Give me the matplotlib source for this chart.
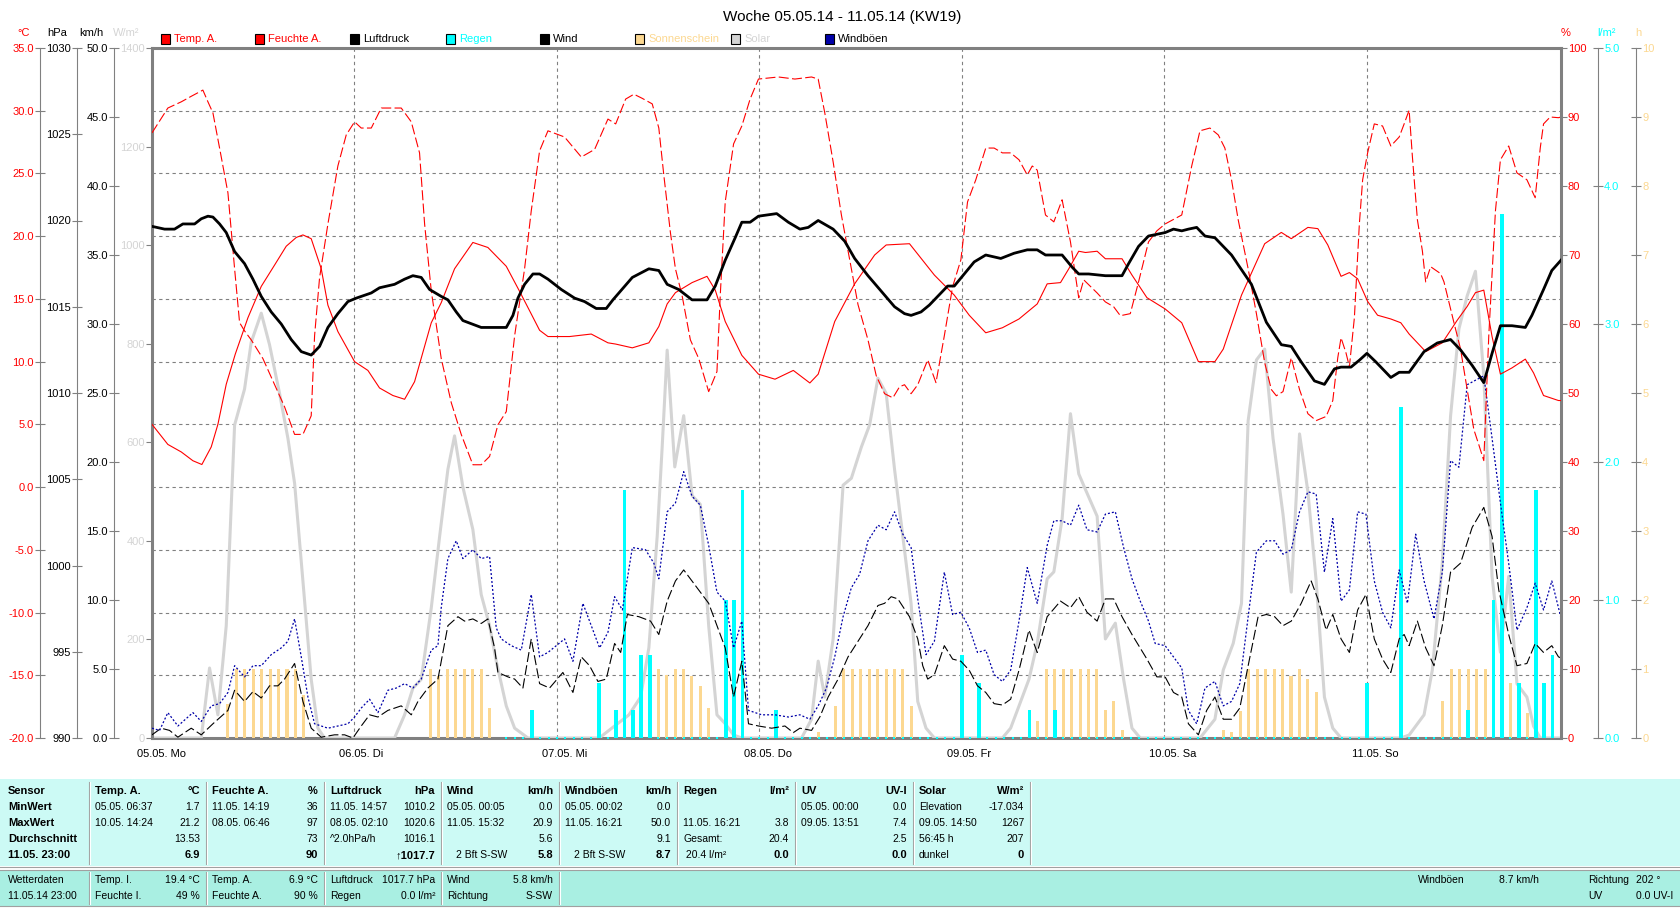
import matplotlib
matplotlib.use("Agg")
import matplotlib.pyplot as plt
import matplotlib.transforms as mtransforms
from matplotlib.patches import Rectangle

plt.rcParams["font.family"] = ["Liberation Sans", "DejaVu Sans"]

# ---------------- data: hours since 05.05.14 00:00 ----------------
TITLE = "Woche 05.05.14 - 11.05.14 (KW19)"
DAYS = ["05.05. Mo", "06.05. Di", "07.05. Mi", "08.05. Do", "09.05. Fr", "10.05. Sa", "11.05. So"]
DAY_H = [0, 24, 48, 72, 96, 120, 144]
END_H = 167

TEMP_H = [0, 1.88, 3.47, 4.85, 5.91, 7.02, 7.81, 8.8, 9.87, 11.37,
          12.95, 14.53, 15.91, 17.1, 17.89, 18.87, 20.06, 20.85, 22.03, 24.01,
          25.59, 26.97, 28.55, 29.94, 31.12, 33.1, 34.28, 35.86, 38.03, 39.81,
          41.99, 43.57, 44.95, 45.94, 46.93, 49.49, 52.06, 54.04, 54.96, 56.93,
          58.89, 60.07, 61.06, 62.04, 64.01, 65.78, 66.76, 67.94, 69.91, 71.88,
          73.84, 76.01, 77.97, 78.96, 80.92, 83.28, 85.65, 87.02, 89.78, 92.73,
          95.09, 96.86, 98.82, 100.79, 102.76, 104.92, 106.1, 107.68, 108.66, 109.84,
          110.64, 112.02, 113.0, 114.97, 116.15, 117.92, 120.08, 122.05, 124.02, 125.98,
          126.97, 129.13, 131.88, 133.85, 135.03, 137.0, 138.18, 139.36, 140.93, 141.92,
          142.9, 144.08, 145.26, 146.83, 148.01, 149.0, 150.96, 152.93, 154.7, 155.88,
          156.86, 157.85, 158.83, 159.82, 161.19, 162.77, 163.75, 164.93, 166.7, 167]
TEMP_V = [5.0, 3.4, 2.8, 2.1, 1.8, 3.2, 5.0, 8.2, 10.6, 13.5,
          16.0, 17.7, 19.2, 19.9, 20.1, 19.8, 17.4, 14.5, 12.4, 10.0,
          9.3, 7.9, 7.3, 7.0, 8.4, 13.1, 14.7, 17.4, 19.5, 19.1,
          17.6, 15.6, 13.8, 12.5, 12.0, 12.0, 12.2, 11.5, 11.4, 11.1,
          11.5, 12.8, 14.6, 15.5, 16.3, 16.8, 15.7, 13.2, 10.5, 9.0,
          8.6, 9.3, 8.3, 9.0, 13.2, 16.2, 18.5, 19.3, 19.4, 16.9,
          15.3, 13.7, 12.3, 12.7, 13.4, 14.6, 16.2, 16.3, 17.4, 18.8,
          18.7, 18.8, 18.2, 18.2, 16.9, 15.1, 14.2, 13.1, 10.0, 10.0,
          11.0, 15.3, 19.4, 20.3, 19.8, 20.7, 20.6, 19.3, 16.8, 17.1,
          16.6, 14.8, 13.7, 13.4, 13.1, 12.2, 10.8, 11.5, 13.3, 14.4,
          15.5, 15.7, 12.0, 9.0, 9.5, 10.2, 9.1, 7.3, 6.9, 6.9]

HUM_H = [0, 1.88, 3.47, 4.65, 6.03, 6.63, 7.22, 8.01, 9.0, 9.79,
         10.38, 10.97, 11.76, 13.14, 14.53, 15.71, 16.9, 17.89, 18.87, 19.27,
         19.86, 20.85, 22.03, 23.02, 24.01, 24.8, 25.99, 27.17, 29.54, 30.73,
         31.71, 32.31, 33.1, 34.28, 35.47, 36.65, 38.03, 39.02, 40.01, 41.0,
         41.99, 42.98, 44.16, 44.95, 45.94, 46.93, 48.9, 50.88, 52.46, 54.04,
         54.96, 56.14, 57.12, 58.11, 59.29, 60.07, 60.66, 61.45, 62.04, 62.83,
         63.81, 64.8, 65.98, 66.96, 67.35, 67.94, 68.93, 69.91, 70.89, 71.88,
         74.24, 76.2, 78.17, 78.96, 79.74, 80.73, 81.71, 82.69, 83.68, 84.86,
         85.84, 86.83, 87.81, 88.6, 89.19, 89.97, 90.76, 91.94, 92.92, 93.91,
         94.89, 95.87, 96.66, 97.64, 98.82, 99.81, 100.79, 101.77, 102.76, 103.74,
         104.33, 104.92, 105.9, 106.89, 107.87, 108.86, 109.84, 110.43, 112.02, 113.0,
         113.98, 114.77, 115.95, 116.93, 118.11, 119.1, 120.08, 122.05, 123.23, 124.21,
         125.39, 126.38, 127.16, 127.95, 128.74, 129.92, 130.9, 131.88, 132.67, 133.26,
         134.05, 135.03, 136.01, 137.0, 137.98, 139.16, 139.95, 140.54, 140.93, 141.52,
         141.92, 142.51, 143.1, 143.49, 144.08, 144.87, 145.85, 146.83, 147.82, 148.41,
         149.0, 149.39, 149.98, 150.57, 150.96, 151.55, 152.73, 153.13, 154.31, 155.09,
         155.88, 156.67, 157.26, 157.85, 158.44, 159.23, 159.82, 160.8, 161.78, 162.96,
         163.94, 164.54, 164.93, 165.72, 166.7, 167]
HUM_V = [87.7, 91.3, 92.2, 93.0, 93.9, 92.2, 90.6, 85.5, 79.0, 68.0,
         60.2, 59.0, 57.7, 55.0, 51.2, 48.0, 44.0, 44.0, 46.7, 58.3,
         66.7, 74.5, 82.9, 87.4, 89.3, 88.4, 88.4, 91.3, 91.3, 89.3,
         84.8, 74.5, 64.8, 55.0, 48.6, 44.0, 39.6, 39.6, 40.8, 45.4,
         47.3, 58.3, 68.0, 76.4, 85.1, 88.0, 87.1, 84.2, 85.3, 89.7,
         89.0, 92.6, 93.3, 92.7, 91.9, 88.4, 81.6, 73.2, 68.0, 64.1,
         57.7, 55.0, 50.2, 53.1, 64.1, 77.7, 86.1, 88.7, 92.6, 95.5,
         95.8, 95.5, 95.8, 95.5, 90.6, 83.5, 75.8, 69.3, 62.8, 57.7,
         52.5, 49.9, 49.3, 50.9, 51.2, 49.9, 51.2, 54.8, 51.5, 58.3,
         65.4, 69.3, 77.7, 80.9, 85.5, 85.5, 84.8, 84.8, 83.8, 81.6,
         82.9, 82.3, 75.8, 74.8, 78.0, 71.9, 63.8, 66.4, 64.5, 63.2,
         62.5, 61.2, 61.5, 66.1, 71.9, 73.5, 74.5, 75.8, 82.9, 88.0,
         88.4, 87.4, 85.5, 80.9, 75.1, 68.0, 61.5, 54.4, 50.5, 49.6,
         50.2, 55.1, 50.5, 47.0, 46.0, 46.6, 48.9, 55.1, 58.0, 55.8,
         53.8, 60.9, 74.5, 80.9, 84.8, 89.0, 88.7, 85.8, 87.1, 89.0,
         91.0, 84.2, 75.1, 70.6, 66.1, 68.3, 67.3, 66.1, 60.2, 56.4,
         50.5, 44.7, 42.5, 40.2, 58.3, 76.4, 83.8, 85.8, 81.9, 80.9,
         78.3, 85.5, 89.0, 90.0, 89.9, 90.0]

PRES_H = [0, 1.49, 2.67, 3.66, 5.05, 5.84, 6.63, 7.22, 8.01, 8.8,
          9.79, 10.97, 11.96, 12.95, 14.13, 15.32, 16.5, 17.69, 18.87, 19.86,
          20.85, 22.03, 23.22, 24.21, 25.99, 26.97, 28.75, 29.94, 30.92, 31.91,
          32.9, 34.28, 35.07, 36.06, 36.85, 39.02, 41.99, 42.78, 43.37, 44.16,
          45.15, 45.94, 46.93, 48.51, 50.09, 51.27, 52.65, 53.84, 54.63, 56.93,
          58.89, 60.07, 61.06, 62.43, 64.01, 65.78, 66.76, 67.94, 69.12, 69.91,
          70.89, 71.88, 74.04, 75.42, 76.79, 77.78, 78.96, 80.73, 82.1, 83.28,
          84.86, 86.43, 88.01, 89.19, 89.97, 91.15, 92.14, 93.12, 94.3, 95.09,
          96.27, 97.45, 98.82, 100.6, 102.17, 103.74, 104.92, 105.9, 107.87, 109.05,
          109.84, 111.02, 113.0, 114.97, 115.75, 116.93, 118.11, 119.1, 120.08, 121.07,
          122.05, 122.84, 123.82, 124.8, 125.98, 127.95, 130.31, 132.08, 133.85, 135.03,
          136.21, 137.78, 138.96, 140.15, 140.93, 142.11, 143.1, 144.0, 145.06, 146.83,
          147.82, 149.0, 150.77, 152.34, 153.91, 155.09, 156.47, 157.85, 158.83, 159.82,
          161.19, 162.77, 163.55, 164.93, 165.91, 166.82, 167]
PRES_V = [1019.66, 1019.5, 1019.5, 1019.8, 1019.8, 1020.1, 1020.25, 1020.2, 1019.8, 1019.3,
          1018.2, 1017.5, 1016.6, 1015.6, 1014.7, 1014.0, 1013.1, 1012.4, 1012.2, 1012.7,
          1013.8, 1014.6, 1015.3, 1015.5, 1015.8, 1016.1, 1016.3, 1016.6, 1016.8, 1016.7,
          1016.0, 1015.6, 1015.4, 1014.7, 1014.2, 1013.8, 1013.8, 1014.5, 1015.5, 1016.3,
          1016.9, 1016.9, 1016.6, 1016.0, 1015.5, 1015.3, 1014.9, 1014.9, 1015.4, 1016.7,
          1017.2, 1017.1, 1016.3, 1016.0, 1015.4, 1015.4, 1016.2, 1017.7, 1019.0, 1019.9,
          1019.9, 1020.25, 1020.4, 1019.9, 1019.5, 1019.6, 1020.0, 1019.5, 1018.8, 1017.8,
          1016.8, 1015.9, 1015.0, 1014.6, 1014.5, 1014.7, 1015.1, 1015.6, 1016.2, 1016.2,
          1016.9, 1017.6, 1018.0, 1017.8, 1018.1, 1018.3, 1018.3, 1018.0, 1018.0, 1017.3,
          1016.9, 1016.9, 1016.8, 1016.8, 1017.5, 1018.5, 1019.1, 1019.2, 1019.3, 1019.5,
          1019.4, 1019.5, 1019.6, 1019.1, 1019.0, 1018.0, 1016.3, 1014.1, 1012.8, 1012.7,
          1011.8, 1010.7, 1010.5, 1011.4, 1011.5, 1011.5, 1011.9, 1012.3, 1011.8, 1010.9,
          1011.2, 1011.2, 1012.4, 1012.9, 1013.1, 1012.5, 1011.6, 1010.6, 1012.3, 1013.9,
          1013.9, 1013.8, 1014.5, 1016.0, 1017.1, 1017.6, 1017.7]

WIND_H = [0, 1.09, 2.08, 3.07, 4.65, 5.84, 7.22, 9.0, 9.79, 10.97,
          11.96, 12.95, 13.93, 14.92, 15.71, 16.9, 17.89, 18.87, 20.06, 21.64,
          22.83, 23.81, 24.8, 25.79, 26.78, 27.96, 29.54, 30.73, 31.52, 32.7,
          33.89, 35.07, 36.26, 37.05, 38.03, 39.02, 39.81, 40.6, 41.0, 42.18,
          42.98, 43.96, 44.95, 45.94, 47.12, 48.7, 49.89, 50.88, 51.86, 52.85,
          53.84, 54.83, 55.55, 56.34, 57.71, 59.09, 60.07, 61.06, 62.04, 63.02,
          64.4, 65.19, 65.98, 66.96, 67.94, 68.93, 69.91, 70.7, 71.88, 73.45,
          75.02, 76.01, 76.79, 78.17, 79.15, 80.14, 81.32, 82.5, 83.68, 84.86,
          86.04, 86.83, 87.61, 88.4, 89.78, 90.76, 91.35, 91.94, 92.73, 93.91,
          94.89, 95.87, 96.86, 97.84, 98.82, 99.81, 100.79, 101.77, 102.76, 103.94,
          104.92, 106.1, 107.68, 108.86, 109.84, 110.82, 112.02, 113.0, 113.98, 114.97,
          116.15, 117.92, 119.1, 120.08, 121.07, 122.05, 122.84, 124.02, 125.0, 125.98,
          126.97, 127.95, 128.93, 129.92, 131.1, 132.08, 133.06, 134.05, 135.03, 136.21,
          137.39, 138.18, 139.16, 139.95, 140.93, 141.92, 142.9, 143.88, 144.87, 145.85,
          146.83, 147.82, 148.41, 149.0, 149.98, 150.96, 151.95, 152.93, 153.91, 155.09,
          156.47, 157.85, 158.83, 159.62, 160.8, 161.78, 162.96, 163.94, 164.93, 165.91,
          166.7, 167]
WIND_V = [0.23, 0.71, 0.55, 0.06, 0.71, 0.23, 1.03, 2.0, 3.46, 2.65,
          3.36, 2.9, 3.78, 3.78, 4.27, 5.4, 2.65, 0.71, 0.06, 0.23,
          0.23, 0.0, 0.87, 1.68, 1.52, 2.0, 2.33, 1.68, 2.65, 3.62,
          4.27, 8.14, 8.79, 8.47, 8.63, 8.3, 8.63, 6.53, 4.75, 4.43,
          4.27, 3.62, 7.18, 3.94, 3.62, 4.75, 3.3, 5.88, 5.24, 4.1,
          4.27, 6.85, 6.2, 8.95, 8.79, 8.47, 7.5, 9.92, 11.38, 12.18,
          11.05, 10.4, 9.76, 8.14, 6.53, 2.97, 5.56, 1.03, 0.87, 0.71,
          0.87, 0.39, 0.71, 0.55, 1.52, 2.97, 4.27, 5.88, 7.01, 8.14,
          9.6, 9.76, 10.24, 10.08, 8.79, 7.18, 5.24, 4.27, 4.59, 6.69,
          5.72, 5.56, 4.91, 3.78, 3.3, 2.49, 2.39, 2.81, 4.91, 7.82,
          6.2, 8.79, 9.92, 9.44, 10.24, 9.11, 8.47, 10.08, 10.08, 8.79,
          7.5, 5.72, 4.43, 4.43, 3.3, 2.97, 1.03, 0.23, 2.0, 2.97,
          1.36, 1.36, 2.17, 5.24, 8.79, 8.95, 8.79, 8.14, 8.47, 9.76,
          11.38, 10.08, 7.82, 8.95, 7.18, 6.2, 9.28, 10.4, 7.18, 5.72,
          4.75, 7.18, 7.5, 6.69, 8.47, 6.53, 5.24, 8.14, 12.02, 12.67,
          15.26, 16.71, 14.61, 10.73, 7.5, 5.24, 5.4, 6.85, 6.2, 6.69,
          5.88, 5.8]

GUST_H = [0, 0.9, 1.88, 3.07, 4.85, 5.84, 7.02, 8.01, 9.0, 9.79,
          10.97, 11.96, 12.95, 14.13, 15.32, 16.11, 16.9, 17.69, 18.48, 19.27,
          20.85, 22.03, 23.22, 24.01, 24.8, 25.79, 26.78, 27.96, 28.95, 29.94,
          30.92, 31.91, 33.1, 33.89, 34.28, 35.07, 36.06, 36.85, 38.03, 39.02,
          40.01, 40.8, 41.39, 42.58, 43.77, 44.95, 45.94, 46.93, 47.91, 48.9,
          49.89, 51.07, 52.06, 53.05, 54.04, 54.83, 55.75, 56.93, 58.5, 59.48,
          60.07, 61.06, 62.04, 63.02, 64.01, 64.99, 65.98, 66.96, 67.94, 68.93,
          69.91, 70.7, 72.27, 73.84, 75.42, 76.79, 77.97, 78.96, 79.94, 80.92,
          81.91, 82.89, 83.87, 84.86, 86.04, 87.02, 88.01, 88.99, 89.97, 90.76,
          91.74, 92.73, 93.91, 94.89, 95.87, 96.86, 97.84, 98.82, 99.81, 100.79,
          101.77, 102.76, 103.74, 104.92, 106.1, 106.89, 107.87, 108.86, 109.84, 110.82,
          112.02, 113.0, 114.18, 115.16, 116.15, 117.13, 118.11, 118.9, 120.08, 121.07,
          122.05, 122.84, 123.82, 124.8, 125.98, 126.97, 127.95, 128.93, 129.92, 130.9,
          132.08, 133.06, 134.05, 135.03, 136.01, 137.0, 137.98, 138.96, 139.95, 140.93,
          141.92, 142.9, 143.88, 144.87, 145.85, 146.83, 147.82, 148.8, 149.78, 150.77,
          151.95, 152.93, 153.91, 154.9, 155.88, 156.86, 157.85, 158.83, 159.82, 160.8,
          161.78, 162.96, 163.94, 164.93, 165.91, 166.9, 167]
GUST_V = [0.71, 0.55, 1.84, 0.87, 1.84, 1.2, 2.33, 2.49, 3.3, 5.24,
          4.43, 5.24, 5.24, 6.04, 6.53, 7.01, 8.63, 5.88, 2.97, 1.03,
          0.71, 0.87, 1.03, 1.52, 2.17, 2.81, 1.84, 3.46, 3.62, 3.94,
          3.62, 4.27, 6.37, 6.69, 9.44, 13.0, 14.29, 13.0, 13.64, 13.0,
          13.15, 7.98, 7.18, 6.69, 6.37, 10.4, 5.88, 6.2, 6.69, 7.18,
          5.56, 9.76, 8.14, 6.53, 7.66, 10.24, 9.28, 13.8, 13.64, 12.67,
          11.54, 16.39, 17.03, 19.3, 17.52, 16.87, 13.96, 10.57, 9.92, 6.53,
          8.47, 2.0, 1.68, 1.68, 1.52, 1.68, 1.36, 2.33, 3.62, 5.88,
          8.79, 10.89, 11.86, 14.29, 15.42, 15.09, 16.39, 14.77, 13.8, 10.08,
          6.04, 7.01, 12.02, 8.95, 9.11, 7.98, 6.2, 6.37, 4.59, 4.1,
          4.91, 8.47, 12.35, 9.76, 13.96, 15.74, 15.74, 15.42, 16.87, 15.09,
          14.93, 16.22, 16.39, 13.8, 11.54, 9.92, 8.47, 6.85, 6.69, 5.88,
          5.07, 2.0, 1.03, 3.62, 4.1, 2.33, 2.65, 3.94, 8.79, 13.48,
          14.29, 14.29, 13.32, 13.64, 16.39, 17.84, 17.68, 12.02, 15.9, 9.92,
          10.73, 16.39, 16.22, 11.38, 9.11, 7.98, 12.18, 9.76, 14.77, 11.38,
          8.63, 12.02, 20.1, 19.62, 25.6, 25.92, 26.25, 21.72, 17.03, 12.67,
          7.82, 9.44, 11.22, 9.28, 11.38, 8.95, 8.7]

SOLAR_H = [0, 5.84, 6.82, 7.81, 8.8, 9.79, 10.97, 11.76, 12.95, 13.93, 15.12, 16.11, 16.9, 17.89, 18.87, 19.66, 20.45,
           28.75, 29.94, 30.92, 31.91, 33.1, 34.09, 35.07, 35.86, 36.85, 38.03, 39.02, 40.01, 40.8, 41.99, 42.98, 44.56,
           53.0, 56.53, 57.91, 58.89, 59.88, 60.47, 61.06, 61.96, 63.02, 64.01, 64.99, 65.98, 66.96, 67.94, 68.93, 69.91,
           76.99, 78.17, 78.96, 79.74, 80.73, 81.91, 82.89, 84.07, 85.05, 86.04, 87.02, 88.01, 88.99, 89.97, 90.76, 91.74, 92.73,
           100.79, 101.77, 102.76, 103.94, 104.92, 106.1, 106.89, 107.87, 108.86, 109.84, 110.64, 112.02, 113.0, 114.18, 115.16, 116.15, 117.13,
           124.21, 125.98, 126.97, 128.15, 129.13, 129.92, 130.9, 131.88, 132.87, 134.05, 135.03, 136.01, 137.0, 137.98, 138.96, 139.95, 140.93,
           148.01, 149.0, 150.77, 151.75, 152.93, 153.91, 154.9, 155.88, 156.86, 157.85, 158.83, 159.82, 160.8, 161.78, 162.96, 163.75, 164.54, 167]
SOLAR_V = [0, 0, 142, 47, 228, 635, 708, 803, 862, 798, 699, 608, 517, 318, 119, 20, 0,
           0, 47, 101, 119, 264, 409, 545, 613, 509, 423, 291, 228, 156, 65, 20, 0,
           0, 47, 83, 183, 410, 591, 787, 550, 654, 492, 474, 228, 47, 29, 6, 0,
           0, 38, 156, 83, 201, 513, 527, 590, 635, 730, 699, 545, 409, 273, 74, 20, 0,
           0, 20, 65, 119, 192, 323, 337, 445, 658, 536, 504, 450, 201, 233, 119, 20, 0,
           0, 38, 138, 192, 273, 644, 767, 789, 608, 454, 296, 617, 500, 319, 83, 20, 0,
           0, 6, 47, 138, 355, 653, 830, 897, 947, 735, 328, 174, 328, 110, 83, 24, 0, 0]

SUN_H = [9, 10, 11, 12, 13, 14, 15, 16, 17, 18,
         33, 34, 35, 36, 37, 38, 39, 40,
         60, 61, 62, 63, 64, 65, 66,
         79, 81, 82, 83, 84, 85, 86, 87, 88, 89, 90,
         105, 106, 107, 108, 109, 110, 111, 112, 113, 114, 115,
         127, 128, 129, 130, 131, 132, 133, 134, 135, 136, 137, 138,
         153, 154, 155, 156, 157, 158, 161, 163]
SUN_V = [0.5, 1, 1, 1, 1, 1, 1, 1, 1, 0.63,
         1, 0.9, 1, 1, 1, 1, 1, 0.43,
         1, 0.92, 1, 1, 0.9, 0.76, 0.43,
         0.08, 0.47, 1, 1, 1, 1, 1, 1, 1, 1, 0.47,
         0.24, 1, 1, 1, 1, 1, 1, 1, 0.4, 0.54, 0.11,
         0.11, 0.09, 0.39, 1, 1, 1, 1, 1, 0.9, 1, 0.85, 0.67,
         0.54, 1, 1, 1, 1, 1, 0.8, 0.36]

RAIN_H = [45, 53, 55, 56, 57, 58, 59, 68, 69, 70, 74, 96, 98, 104, 107,
          144, 148, 156, 159, 160, 162, 164, 165, 166]
RAIN_V = [0.2, 0.4, 0.2, 1.8, 0.2, 0.6, 0.6, 1.0, 1.0, 1.8, 0.2, 0.6, 0.4, 0.2, 0.2,
          0.4, 2.4, 0.2, 1.0, 3.8, 0.4, 1.8, 0.4, 0.6]
RAIN_LOG_START = 42   # first hour with a rain reading

# summary table
T_HEAD = ["Temp. A.", "Feuchte A.", "Luftdruck", "Wind", "Windböen", "Regen", "UV", "Solar"]
T_UNIT = ["°C", "%", "hPa", "km/h", "km/h", "l/m²", "UV-I", "W/m²"]
T_MIN_AT = ["05.05. 06:37", "11.05. 14:19", "11.05. 14:57", "05.05. 00:05", "05.05. 00:02", "", "05.05. 00:00", "Elevation"]
T_MIN = ["1.7", "36", "1010.2", "0.0", "0.0", "", "0.0", "-17.034"]
T_MAX_AT = ["10.05. 14:24", "08.05. 06:46", "08.05. 02:10", "11.05. 15:32", "11.05. 16:21", "11.05. 16:21", "09.05. 13:51", "09.05. 14:50"]
T_MAX = ["21.2", "97", "1020.6", "20.9", "50.0", "3.8", "7.4", "1267"]
T_AVG_NOTE = ["", "", "^2.0hPa/h", "", "", "Gesamt:", "", "56:45 h"]
T_AVG = ["13.53", "73", "1016.1", "5.6", "9.1", "20.4", "2.5", "207"]
T_NOW_NOTE = ["", "", "", "2 Bft S-SW", "2 Bft S-SW", " 20.4 l/m²", "", "dunkel"]
T_NOW = ["6.9", "90", "\u21911017.7", "5.8", "8.7", "0.0", "0.0", "0"]
T_ROWS = ["Sensor", "MinWert", "MaxWert", "Durchschnitt", "11.05. 23:00"]
CUR_TITLE = ["Wetterdaten", "11.05.14 23:00"]
CUR_ITEMS = [[("Temp. I.", "19.4 °C"), ("Feuchte I.", "49 %")],
             [("Temp. A.", "6.9 °C"), ("Feuchte A.", "90 %")],
             [("Luftdruck", "1017.7 hPa"), ("Regen", "0.0 l/m²")],
             [("Wind", "5.8 km/h"), ("Richtung", "S-SW")]]
CUR_RIGHT = [("Windböen", "8.7 km/h", "Richtung", "202 °"), ("", "", "UV", "0.0 UV-I")]

# ---------------- layout (pixels) ----------------
W, H = 1680, 909
L, R, T, B = 152, 1561, 48, 738
GREY = "#808080"
SUNC = "#fcd891"
SOLC = "#d4d4d4"
GUSTC = "#0000a8"
CYAN = "#00ffff"

fig = plt.figure(figsize=(W / 100, H / 100), dpi=100)


def fx(x):
    return x / W


def fy(y):
    return 1 - y / H


def axpos(xpix):
    return (xpix - L) / (R - L)


rect = [fx(L), fy(B), (R - L) / W, (B - T) / H]

# base axis: temperature scale, grid and frame
ax_t = fig.add_axes(rect)
ax_t.set_xlim(0, END_H)
ax_t.set_ylim(-20, 35)
for s in ["top", "bottom"]:
    ax_t.spines[s].set_color(GREY)
    ax_t.spines[s].set_linewidth(2.2)
ax_t.spines["right"].set_visible(False)
ax_t.spines["left"].set_position(("axes", axpos(40)))
ax_t.spines["left"].set_color(GREY)
ax_t.spines["left"].set_linewidth(0.8)
tt = list(range(-20, 36, 5))
ax_t.set_yticks(tt)
ax_t.set_yticklabels([f"{v:.1f}" for v in tt])
ax_t.tick_params(axis="y", color=GREY, labelcolor="red", labelsize=8, width=0.8,
                 direction="inout", length=7, pad=1)
ax_t.set_xticks(DAY_H[1:])
ax_t.tick_params(axis="x", length=0, labelbottom=False)
ax_t.grid(True, color=GREY, lw=0.8, ls=(0, (3, 3)))


def add_scale(lo, hi, ticks, fmt, color, side, xpix, frame=False):
    ax = fig.add_axes(rect, sharex=ax_t)
    ax.patch.set_visible(False)
    ax.xaxis.set_visible(False)
    for s in ax.spines.values():
        s.set_visible(False)
    ax.set_ylim(lo, hi)
    if side is None:
        ax.set_yticks([])
        return ax
    sp = ax.spines[side]
    sp.set_visible(True)
    sp.set_position(("axes", axpos(xpix)))
    sp.set_color(GREY)
    sp.set_linewidth(2.2 if frame else 0.8)
    ax.yaxis.set_ticks_position(side)
    ax.set_yticks(ticks)
    ax.set_yticklabels([fmt.format(t) for t in ticks])
    ax.tick_params(axis="y", color=GREY, labelcolor=color, labelsize=8, width=0.8,
                   direction="out" if frame else "inout", length=4 if frame else 7, pad=1)
    return ax


ax_sol = add_scale(0, 1400, list(range(0, 1401, 200)), "{:.0f}", SOLC, "left", L, frame=True)
ax_sun = add_scale(0, 10, list(range(0, 11)), "{:.0f}", SUNC, "right", 1636)
ax_rain = add_scale(0, 5, [0, 1, 2, 3, 4, 5], "{:.1f}", CYAN, "right", 1598)
ax_wind = add_scale(0, 50, list(range(0, 51, 5)), "{:.1f}", "black", "left", 114)
ax_hum = add_scale(0, 100, list(range(0, 101, 10)), "{:.0f}", "red", "right", R, frame=True)
ax_tl = add_scale(-20, 35, None, None, None, None, None)
ax_p = add_scale(990, 1030, list(range(990, 1031, 5)), "{:.0f}", "black", "left", 77)

ax_sol.plot(SOLAR_H, SOLAR_V, color=SOLC, lw=2.2)
ax_sun.bar(SUN_H, SUN_V, width=0.36, color=SUNC, lw=0)
ax_rain.bar(RAIN_H, RAIN_V, width=0.45, color=CYAN, lw=0)
zero_h = [h for h in range(RAIN_LOG_START, END_H + 1) if h not in RAIN_H]
ax_rain.plot(zero_h, [0] * len(zero_h), ls="none", marker="s", ms=1.8, mew=0,
             color=CYAN, clip_on=False)
ax_wind.plot(WIND_H, WIND_V, color="black", lw=0.8, ls=(0, (9, 3)))
ax_wind.plot(GUST_H, GUST_V, color=GUSTC, lw=0.9, ls=(0, (1.6, 1.6)))
ax_hum.plot(HUM_H, HUM_V, color="red", lw=0.8, ls=(0, (9, 3)))
ax_tl.plot(TEMP_H, TEMP_V, color="red", lw=0.8)
ax_p.plot(PRES_H, PRES_V, color="black", lw=2.0)

# day labels under the plot
lab_tr = mtransforms.blended_transform_factory(ax_t.transData, fig.transFigure) + \
    mtransforms.ScaledTranslation(-15 / 100, 0, fig.dpi_scale_trans)
for h, lbl in zip(DAY_H, DAYS):
    ax_t.text(h, fy(754), lbl, transform=lab_tr, ha="left", va="center", fontsize=8)

# title, units, legend
fig.text(fx(842), fy(17), TITLE, ha="center", va="center", fontsize=11)
for x, u, c in [(24, "°C", "red"), (57, "hPa", "black"), (91, "km/h", "black"),
                (126, "W/m²", SOLC), (1566, "%", "red"), (1607, "l/m²", CYAN),
                (1638, "h", SUNC)]:
    fig.text(fx(x), fy(33), u, color=c, fontsize=8, ha="center", va="center")

legend = [("Temp. A.", "red", "red"), ("Feuchte A.", "red", "red"),
          ("Luftdruck", "black", "black"), ("Regen", CYAN, CYAN),
          ("Wind", "black", "black"), ("Sonnenschein", SUNC, SUNC),
          ("Solar", SOLC, SOLC), ("Windböen", GUSTC, "black")]
leg_x = [161, 255, 350, 446, 540, 635, 731, 825]
for x, (name, sq, tc) in zip(leg_x, legend):
    fig.add_artist(Rectangle((fx(x), fy(43.5)), 9 / W, 9 / H, transform=fig.transFigure,
                             facecolor=sq, edgecolor="black", lw=0.8))
    fig.text(fx(x + 13), fy(39), name, color=tc, fontsize=8, ha="left", va="center")

# ---------------- summary table ----------------
SEP = [89, 206, 324, 441, 559, 677, 795, 913, 1030]
P1 = (779, 866)
P2 = (870, 906)
ROW_Y = [791, 807, 823, 839, 855]
ROW2_Y = [880, 896]
FS = 7.5


def prect(x0, y0, x1, y1, fc, ec="none", lw=0):
    fig.add_artist(Rectangle((fx(x0), fy(y1)), (x1 - x0) / W, (y1 - y0) / H,
                             transform=fig.transFigure, facecolor=fc, edgecolor=ec, lw=lw))


def pline(x0, y0, x1, y1, c="#a0a0a0", lw=0.8):
    fig.add_artist(plt.Line2D([fx(x0), fx(x1)], [fy(y0), fy(y1)], transform=fig.transFigure,
                              color=c, lw=lw))


def ptext(x, y, s, ha="left", bold=False):
    fig.text(fx(x), fy(y), s, ha=ha, va="center", fontsize=8 if bold else FS,
             fontweight="bold" if bold else "normal")


prect(0, P1[0], W, P1[1], "#ccfaf5")
prect(0, P2[0], W, P2[1], "#a9efe2")
pline(0, P1[1] + 1, W, P1[1] + 1, c="#a0a0a0")
pline(0, P2[0], W, P2[0], c="#a0a0a0")
pline(0, P2[1], W, P2[1], c="#a0a0a0")
for x in SEP:
    pline(x, P1[0] + 3, x, P1[1] - 2)
    pline(x + 1, P1[0] + 3, x + 1, P1[1] - 2, c="white")
for x in SEP[:5]:
    pline(x, P2[0] + 2, x, P2[1] - 2)
    pline(x + 1, P2[0] + 2, x + 1, P2[1] - 2, c="white")

for y, s in zip(ROW_Y, T_ROWS):
    ptext(8, y, s, bold=True)
for i in range(8):
    x0, x1 = SEP[i] + 6, SEP[i + 1] - 6
    ptext(x0, ROW_Y[0], T_HEAD[i], bold=True)
    ptext(x1, ROW_Y[0], T_UNIT[i], ha="right", bold=True)
    ptext(x0, ROW_Y[1], T_MIN_AT[i])
    ptext(x1, ROW_Y[1], T_MIN[i], ha="right")
    ptext(x0, ROW_Y[2], T_MAX_AT[i])
    ptext(x1, ROW_Y[2], T_MAX[i], ha="right")
    ptext(x0, ROW_Y[3], T_AVG_NOTE[i])
    ptext(x1, ROW_Y[3], T_AVG[i], ha="right")
    ptext(x0 + (9 if "Bft" in T_NOW_NOTE[i] else 0), ROW_Y[4], T_NOW_NOTE[i])
    ptext(x1, ROW_Y[4], T_NOW[i], ha="right", bold=True)

for y, s in zip(ROW2_Y, CUR_TITLE):
    ptext(8, y, s)
for i, items in enumerate(CUR_ITEMS):
    x0, x1 = SEP[i] + 6, SEP[i + 1] - 6
    for y, (a, b) in zip(ROW2_Y, items):
        ptext(x0, y, a)
        ptext(x1, y, b, ha="right")
for y, (a, b, c, d) in zip(ROW2_Y, CUR_RIGHT):
    ptext(1418, y, a)
    ptext(1539, y, b, ha="right")
    ptext(1588, y, c)
    ptext(1636, y, d)

fig.savefig("out.png", dpi=100)
